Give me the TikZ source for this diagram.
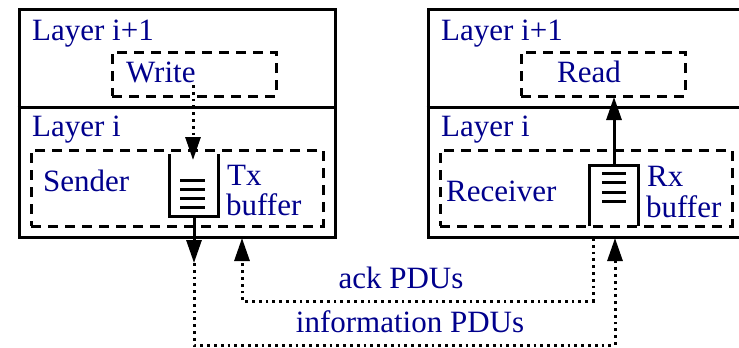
\documentclass[tikz,border=0pt]{standalone}
\usepackage{fontspec}
\setmainfont{Liberation Serif}
\usetikzlibrary{arrows.meta}
\definecolor{txtblue}{RGB}{0,0,140}
\begin{document}
\begin{tikzpicture}[x=1pt,y=-1pt,
  lw/.style={line width=3pt},
  solidbox/.style={draw,lw,inner sep=0pt},
  dbox/.style={draw,lw,dash pattern=on 10pt off 7pt,inner sep=0pt},
  lbl/.style={anchor=base west,inner sep=0pt,text=txtblue,font=\fontsize{31}{37}\selectfont},
  dotline/.style={lw,dash pattern=on 2.8pt off 4pt},
  tip/.style={-{Triangle[length=23pt,width=15pt]}},
  buf/.style={lw}]
\useasboundingbox (0,0) rectangle (739,348);
% outer boxes
\node[solidbox,minimum width=316pt,minimum height=228pt] (lbox) at (177,123) {};
\draw[lw] (lbox.north west |- 0,107) coordinate (ldivl) -- (lbox.north east |- 0,107) coordinate (ldivr);
\node[solidbox,minimum width=316pt,minimum height=228pt] (rbox) at (586,123) {};
\draw[lw] (rbox.north west |- 0,107) coordinate (rdivl) -- (rbox.north east |- 0,107) coordinate (rdivr);
% dashed boxes
\node[dbox,minimum width=164pt,minimum height=44pt] (write) at (194,74) {};
\node[dbox,minimum width=164pt,minimum height=44pt] (read) at (603,74) {};
\node[dbox,minimum width=292pt,minimum height=76pt] (sender) at (177,188) {};
\node[dbox,minimum width=292pt,minimum height=76pt] (receiver) at (586,188) {};
% labels
\node[lbl] (l1) at (32,40) {Layer i+1};
\node[lbl] (l2) at (32,136) {Layer i};
\node[lbl] (r1) at (441,40) {Layer i+1};
\node[lbl] (r2) at (441,136) {Layer i};
\node[lbl] (wt) at (126,82) {Write};
\node[lbl] (rt) at (557,82) {Read};
\node[lbl] (st) at (43,191) {Sender};
\node[lbl] (rct) at (446,201) {Receiver};
\node[lbl] (tx) at (227,185) {Tx};
\node[lbl] (txb) at (226,215) {buffer};
\node[lbl] (rx) at (647,186) {Rx};
\node[lbl] (rxb) at (646,217) {buffer};
\node[lbl,anchor=base] (ack) at (401,288) {ack PDUs};
\node[lbl,anchor=base] (info) at (410,332) {information PDUs};
% Tx buffer
\coordinate (txtl) at (169,154);
\coordinate (txbl) at (169,216);
\coordinate (txbr) at (218,216);
\coordinate (txtr) at (218,154);
\draw[buf] (txtl) -- (txbl) -- (txbr) -- (txtr);
\foreach \y in {180,189,198,207} \draw[buf] (180,\y) -- (205,\y);
% Rx buffer
\coordinate (rxbl) at (589,226);
\coordinate (rxtl) at (589,165);
\coordinate (rxtr) at (638,165);
\coordinate (rxbr) at (638,226);
\draw[buf] (rxbl) -- (rxtl) -- (rxtr) -- (rxbr);
\foreach \y in {173,182,192,201} \draw[buf] (602,\y) -- (626,\y);
% connectors
\coordinate (wout) at (193,85);
\coordinate (txin) at (193,160);
\draw[dotline,tip] (wout) -- (txin);
\coordinate (txout) at (194,216);
\coordinate (txdown) at (194,263);
\draw[lw,tip] (txout) -- (txdown);
\coordinate (infoL) at (194,345);
\coordinate (infoR) at (615,345);
\coordinate (rxin) at (615,238);
\draw[dotline,tip] (txdown) -- (infoL) -- (infoR) -- (rxin);
\coordinate (rxout) at (614,165);
\coordinate (readin) at (614,97);
\draw[lw,tip] (rxout) -- (readin);
\coordinate (ackR0) at (593,238);
\coordinate (ackR) at (593,301);
\coordinate (ackL) at (242,301);
\coordinate (ackin) at (242,238);
\draw[dotline,tip] (ackR0) -- (ackR) -- (ackL) -- (ackin);
\end{tikzpicture}
\end{document}
